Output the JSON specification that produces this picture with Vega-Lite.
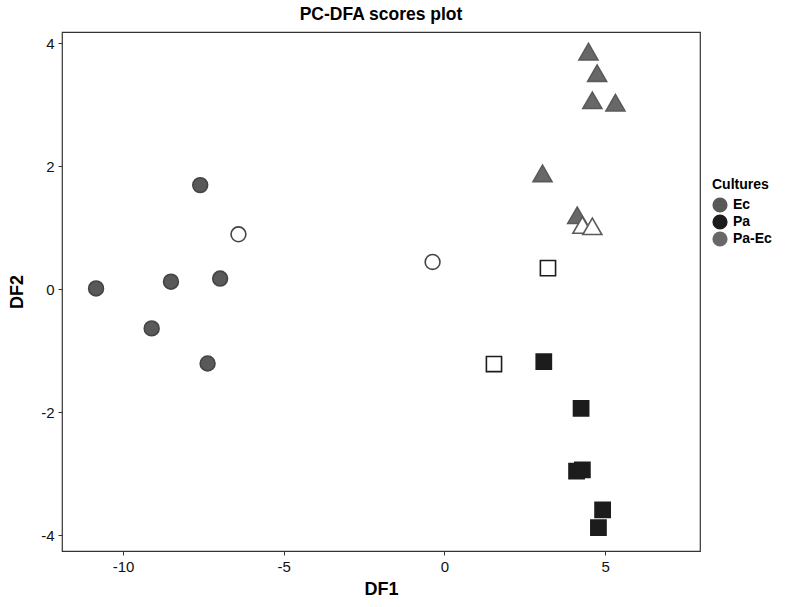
{
  "$schema": "https://vega.github.io/schema/vega-lite/v6.json",
  "autosize": "none",
  "width": 638,
  "height": 519,
  "padding": {"left": 62, "top": 32, "right": 86, "bottom": 56},
  "background": "white",
  "config": {
    "font": "Liberation Sans",
    "view": {"stroke": "#333333", "strokeWidth": 1.2}
  },
  "title": {
    "text": "PC-DFA scores plot",
    "anchor": "middle",
    "fontSize": 17.5,
    "fontWeight": "bold",
    "font": "Liberation Sans",
    "color": "black",
    "offset": 9
  },
  "data": {
    "values": [
      {"DF1": -10.84, "DF2": 0.01, "Culture": "Ec", "set": "train"},
      {"DF1": -9.11, "DF2": -0.64, "Culture": "Ec", "set": "train"},
      {"DF1": -8.51, "DF2": 0.12, "Culture": "Ec", "set": "train"},
      {"DF1": -7.60, "DF2": 1.69, "Culture": "Ec", "set": "train"},
      {"DF1": -6.98, "DF2": 0.17, "Culture": "Ec", "set": "train"},
      {"DF1": -7.37, "DF2": -1.21, "Culture": "Ec", "set": "train"},
      {"DF1": 3.09, "DF2": -1.18, "Culture": "Pa", "set": "train"},
      {"DF1": 4.25, "DF2": -1.94, "Culture": "Pa", "set": "train"},
      {"DF1": 4.11, "DF2": -2.96, "Culture": "Pa", "set": "train"},
      {"DF1": 4.29, "DF2": -2.94, "Culture": "Pa", "set": "train"},
      {"DF1": 4.92, "DF2": -3.59, "Culture": "Pa", "set": "train"},
      {"DF1": 4.79, "DF2": -3.88, "Culture": "Pa", "set": "train"},
      {"DF1": 4.48, "DF2": 3.86, "Culture": "Pa-Ec", "set": "train"},
      {"DF1": 4.75, "DF2": 3.51, "Culture": "Pa-Ec", "set": "train"},
      {"DF1": 4.60, "DF2": 3.07, "Culture": "Pa-Ec", "set": "train"},
      {"DF1": 5.32, "DF2": 3.03, "Culture": "Pa-Ec", "set": "train"},
      {"DF1": 3.05, "DF2": 1.88, "Culture": "Pa-Ec", "set": "train"},
      {"DF1": 4.13, "DF2": 1.20, "Culture": "Pa-Ec", "set": "train"},
      {"DF1": -6.41, "DF2": 0.89, "Culture": "Ec", "set": "test"},
      {"DF1": -0.37, "DF2": 0.44, "Culture": "Ec", "set": "test"},
      {"DF1": 3.22, "DF2": 0.34, "Culture": "Pa", "set": "test"},
      {"DF1": 1.54, "DF2": -1.22, "Culture": "Pa", "set": "test"},
      {"DF1": 4.29, "DF2": 1.04, "Culture": "Pa-Ec", "set": "test"},
      {"DF1": 4.60, "DF2": 1.02, "Culture": "Pa-Ec", "set": "test"}
    ]
  },
  "encoding": {
    "x": {
      "field": "DF1", "type": "quantitative",
      "scale": {"domain": [-11.9, 7.95], "nice": false, "zero": false},
      "axis": {
        "title": "DF1", "values": [-10, -5, 0, 5], "grid": false, "domain": false,
        "labelExpr": "replace(datum.label, '\u2212', '-')",
        "tickColor": "#333333", "tickSize": 4, "labelFontSize": 15, "labelColor": "#111111",
        "labelPadding": 4, "titleFontSize": 18, "titleFontWeight": "bold", "titleColor": "black",
        "titlePadding": 6, "labelFont": "Liberation Sans", "titleFont": "Liberation Sans"
      }
    },
    "y": {
      "field": "DF2", "type": "quantitative",
      "scale": {"domain": [-4.26, 4.18], "nice": false, "zero": false},
      "axis": {
        "title": "DF2", "values": [-4, -2, 0, 2, 4], "grid": false, "domain": false,
        "labelExpr": "replace(datum.label, '\u2212', '-')",
        "tickColor": "#333333", "tickSize": 4, "labelFontSize": 15, "labelColor": "#111111",
        "labelPadding": 4, "titleFontSize": 18, "titleFontWeight": "bold", "titleColor": "black",
        "titlePadding": 14, "labelFont": "Liberation Sans", "titleFont": "Liberation Sans"
      }
    },
    "color": {
      "field": "Culture", "type": "nominal",
      "scale": {"domain": ["Ec", "Pa", "Pa-Ec"], "range": ["#595959", "#1c1c1c", "#686868"]},
      "condition": {"test": "datum.set === 'test'", "value": "white"},
      "legend": {
        "title": "Cultures", "orient": "none", "legendX": 650, "legendY": 146,
        "symbolType": "circle", "symbolSize": 230, "symbolStrokeWidth": 0,
        "titleFontSize": 14, "titleFontWeight": "bold", "titleColor": "black",
        "labelFontSize": 14, "labelFontWeight": "bold", "labelColor": "black",
        "rowPadding": 1, "titlePadding": 5, "labelOffset": 5
      }
    },
    "stroke": {
      "field": "Culture", "type": "nominal",
      "scale": {"domain": ["Ec", "Pa", "Pa-Ec"], "range": ["#444444", "#1c1c1c", "#5a5a5a"]},
      "legend": null
    }
  },
  "layer": [
    {
      "transform": [{"filter": "datum.Culture === 'Ec'"}],
      "mark": {"type": "point", "filled": true, "strokeWidth": 1.6, "opacity": 1, "shape": "circle", "size": 220}
    },
    {
      "transform": [{"filter": "datum.Culture === 'Pa'"}],
      "mark": {"type": "point", "filled": true, "strokeWidth": 1.6, "opacity": 1, "shape": "square", "size": 230}
    },
    {
      "transform": [{"filter": "datum.Culture === 'Pa-Ec'"}],
      "mark": {"type": "point", "filled": true, "strokeWidth": 1.6, "opacity": 1, "shape": "triangle-up", "size": 360}
    }
  ]
}
